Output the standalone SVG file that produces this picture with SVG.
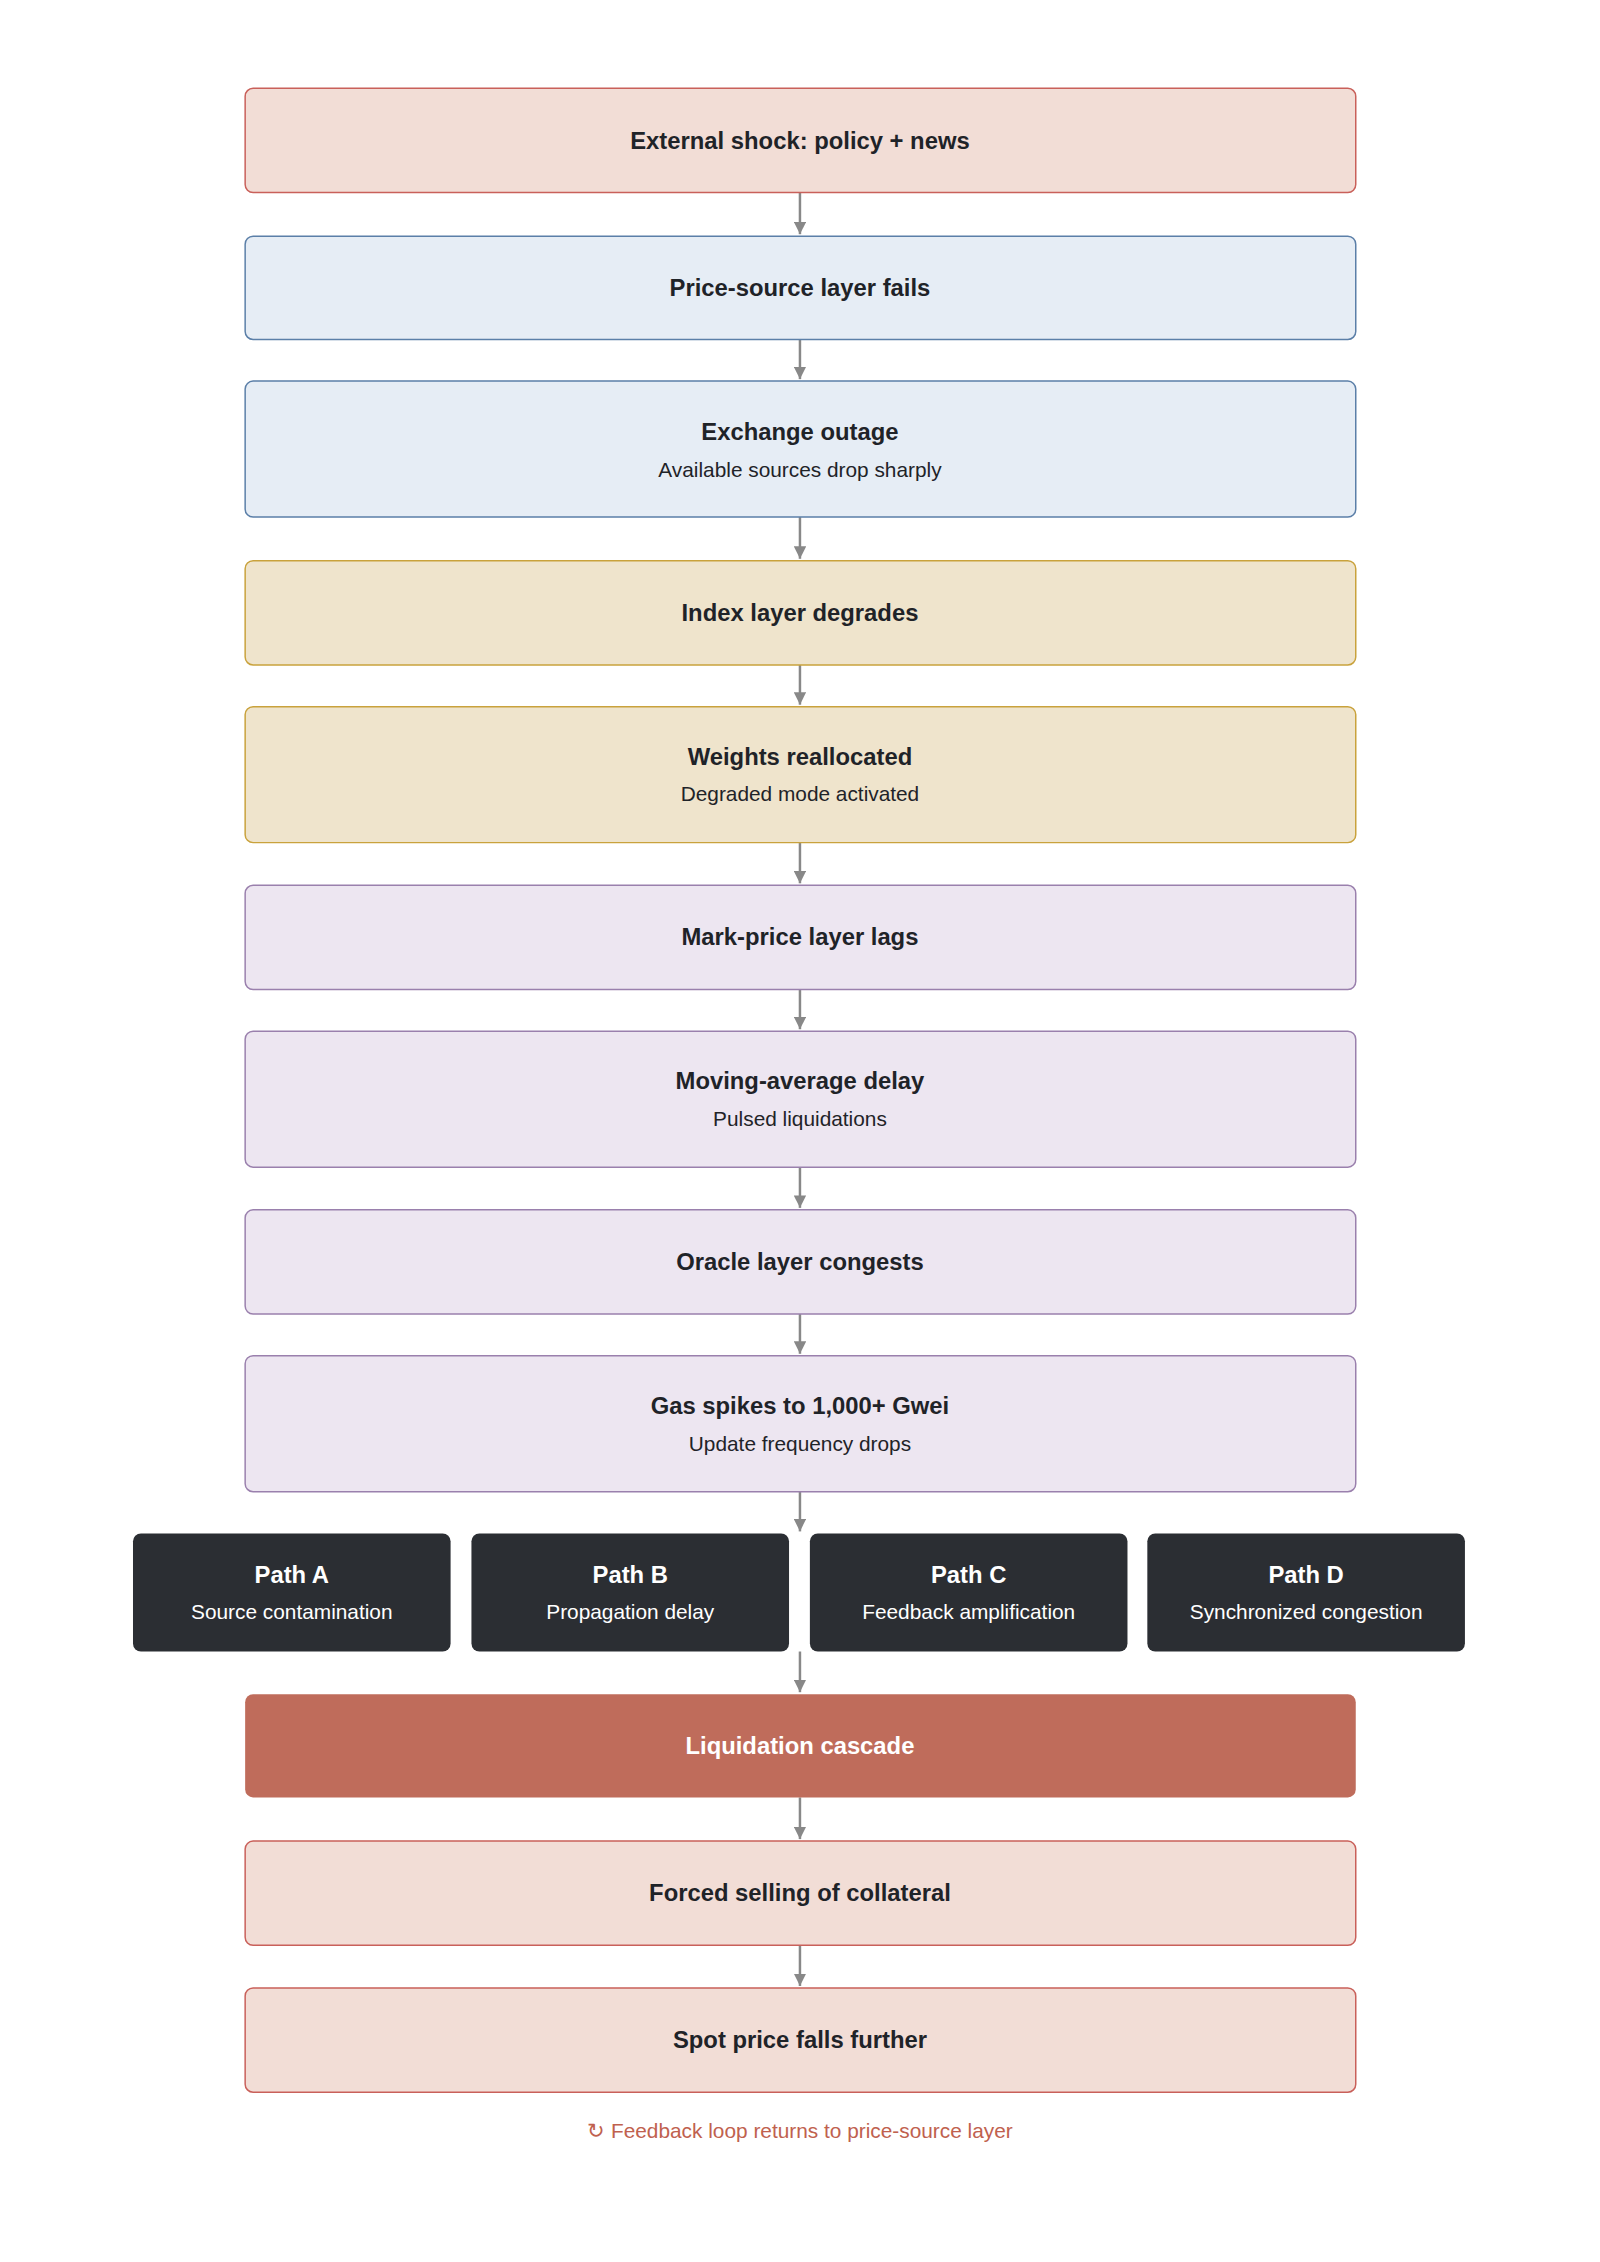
<svg xmlns="http://www.w3.org/2000/svg" width="1600" height="2262" viewBox="0 0 1600 2262">
<style>
text{font-family:"Helvetica Neue","Liberation Sans",Arial,sans-serif;text-anchor:middle;dominant-baseline:central;fill:#1f2328}
.t{font-size:24px;font-weight:bold}
.s{font-size:21px}
.red{fill:#f2ddd6;stroke:#c9605a;stroke-width:1.5}
.blue{fill:#e6edf5;stroke:#5b7fa8;stroke-width:1.5}
.yel{fill:#efe4cc;stroke:#c9a23c;stroke-width:1.5}
.pur{fill:#ede6f1;stroke:#9a80ad;stroke-width:1.5}
.dark{fill:#2b2e33}
.w{fill:#fff}
.conn line{stroke:#888;stroke-width:2.5;marker-end:url(#ah)}
</style>
<defs><marker id="ah" viewBox="0 0 10 10" refX="10" refY="5" markerWidth="5" markerHeight="5" orient="auto"><path d="M0,0L10,5L0,10z" fill="#888"/></marker></defs>
<rect width="1600" height="2262" fill="#fff"/>
<g transform="translate(0,-1) scale(0.9925)">
<g class="conn">
<line x1="806" y1="195" x2="806" y2="237"/>
<line x1="806" y1="343" x2="806" y2="383"/>
<line x1="806" y1="522" x2="806" y2="564"/>
<line x1="806" y1="671" x2="806" y2="711"/>
<line x1="806" y1="850" x2="806" y2="891"/>
<line x1="806" y1="998" x2="806" y2="1038"/>
<line x1="806" y1="1177" x2="806" y2="1218"/>
<line x1="806" y1="1325" x2="806" y2="1365"/>
<line x1="806" y1="1504" x2="806" y2="1544"/>
<line x1="806" y1="1665" x2="806" y2="1706"/>
<line x1="806" y1="1812" x2="806" y2="1854"/>
<line x1="806" y1="1961" x2="806" y2="2002"/>
</g>
<g id="n1"><rect class="red" x="247" y="90" width="1119" height="105" rx="8"/><text class="t" x="806" y="143">External shock: policy + news</text></g>
<g id="n2"><rect class="blue" x="247" y="239" width="1119" height="104" rx="8"/><text class="t" x="806" y="291">Price-source layer fails</text></g>
<g id="n3"><rect class="blue" x="247" y="385" width="1119" height="137" rx="8"/><text class="t" x="806" y="436">Exchange outage</text><text class="s" x="806" y="474">Available sources drop sharply</text></g>
<g id="n4"><rect class="yel" x="247" y="566" width="1119" height="105" rx="8"/><text class="t" x="806" y="618">Index layer degrades</text></g>
<g id="n5"><rect class="yel" x="247" y="713" width="1119" height="137" rx="8"/><text class="t" x="806" y="763">Weights reallocated</text><text class="s" x="806" y="801">Degraded mode activated</text></g>
<g id="n6"><rect class="pur" x="247" y="893" width="1119" height="105" rx="8"/><text class="t" x="806" y="945">Mark-price layer lags</text></g>
<g id="n7"><rect class="pur" x="247" y="1040" width="1119" height="137" rx="8"/><text class="t" x="806" y="1090">Moving-average delay</text><text class="s" x="806" y="1128">Pulsed liquidations</text></g>
<g id="n8"><rect class="pur" x="247" y="1220" width="1119" height="105" rx="8"/><text class="t" x="806" y="1272">Oracle layer congests</text></g>
<g id="n9"><rect class="pur" x="247" y="1367" width="1119" height="137" rx="8"/><text class="t" x="806" y="1417">Gas spikes to 1,000+ Gwei</text><text class="s" x="806" y="1455">Update frequency drops</text></g>
<g id="pA"><rect class="dark" x="134" y="1546" width="320" height="119" rx="8"/><text class="t w" x="294" y="1587">Path A</text><text class="s w" x="294" y="1625">Source contamination</text></g>
<g id="pB"><rect class="dark" x="475" y="1546" width="320" height="119" rx="8"/><text class="t w" x="635" y="1587">Path B</text><text class="s w" x="635" y="1625">Propagation delay</text></g>
<g id="pC"><rect class="dark" x="816" y="1546" width="320" height="119" rx="8"/><text class="t w" x="976" y="1587">Path C</text><text class="s w" x="976" y="1625">Feedback amplification</text></g>
<g id="pD"><rect class="dark" x="1156" y="1546" width="320" height="119" rx="8"/><text class="t w" x="1316" y="1587">Path D</text><text class="s w" x="1316" y="1625">Synchronized congestion</text></g>
<g id="n10"><rect fill="#bf6c5b" x="247" y="1708" width="1119" height="104" rx="8"/><text class="t w" x="806" y="1760">Liquidation cascade</text></g>
<g id="n11"><rect class="red" x="247" y="1856" width="1119" height="105" rx="8"/><text class="t" x="806" y="1908">Forced selling of collateral</text></g>
<g id="n12"><rect class="red" x="247" y="2004" width="1119" height="105" rx="8"/><text class="t" x="806" y="2056">Spot price falls further</text></g>
<text x="806" y="2148" style="font-size:21px;fill:#c0614e">↻ Feedback loop returns to price-source layer</text>
</g>
</svg>
